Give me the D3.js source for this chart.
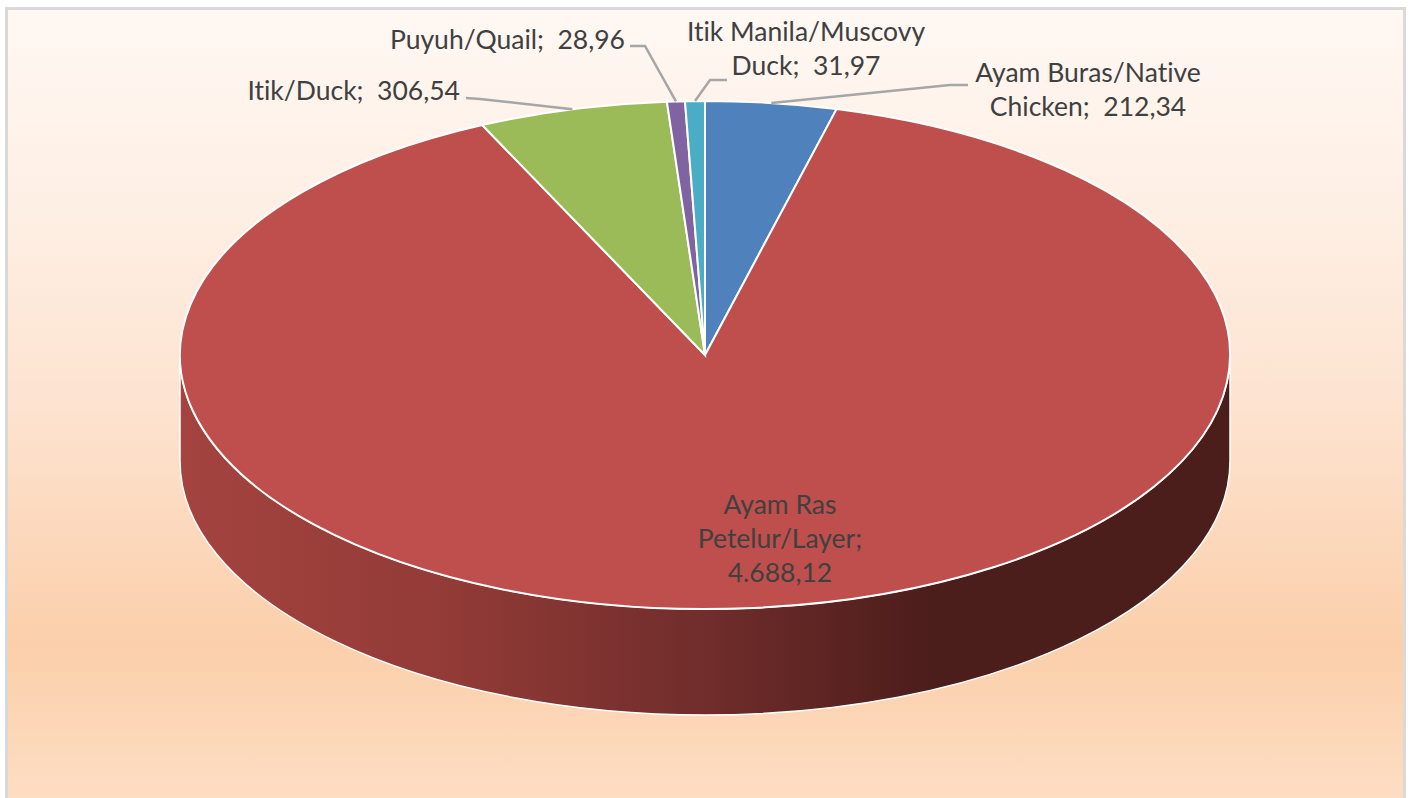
<!doctype html>
<html>

<head>
    <meta charset="utf-8">
    <script src="https://cdnjs.cloudflare.com/ajax/libs/d3/7.8.5/d3.min.js"></script>
    <style>
        html, body {
            margin: 0;
            padding: 0;
            background: #fff;
        }

        svg {
            display: block;
        }

        text {
            font-family: Lato, "Open Sans", sans-serif;
            font-size: 26.5px;
            font-variant-ligatures: none;
            fill: #404040;
            white-space: pre;
        }
    </style>
</head>

<body>
    <div id="viz"></div>
    <script>
        // values, clockwise from 12 o'clock
        var categories = ["Ayam Buras/Native Chicken", "Ayam Ras Petelur/Layer", "Itik/Duck", "Puyuh/Quail", "Itik Manila/Muscovy Duck"];
        var values = [212.34, 4688.12, 306.54, 28.96, 31.97];
        var colors = ["#4f81bd", "#be4f4c", "#9bbb59", "#8064a2", "#4bacc6"];
        // how each name wraps in its label
        var nameLines = [["Ayam Buras/Native", "Chicken"], ["Ayam Ras", "Petelur/Layer"], ["Itik/Duck"], ["Puyuh/Quail"], ["Itik Manila/Muscovy", "Duck"]];

        var width = 1412, height = 798;
        var cx = 705, cy = 355, rx = 525, ry = 254, depth = 106;

        // label placement: anchor x, first baseline, text-anchor, then the elbow of the leader line
        var labelPos = [
            { x: 1088, y: 82, anchor: "middle", elbow: [[968, 85], [950, 85]] },
            { x: 780, y: 514, anchor: "middle", elbow: null },
            { x: 460, y: 100, anchor: "end", elbow: [[466, 98], [480, 99]] },
            { x: 625, y: 49, anchor: "end", elbow: [[630, 46], [645, 46]] },
            { x: 806, y: 41, anchor: "middle", elbow: [[727, 80], [710, 80]] }
        ];
        var lineStep = 34;

        var numFormat = d3.formatLocale({ decimal: ",", thousands: ".", grouping: [3], currency: ["", ""] }).format(",.2f");

        var svg = d3.select("#viz").append("svg")
            .attr("width", width)
            .attr("height", height);

        var defs = svg.append("defs");

        var bg = defs.append("linearGradient")
            .attr("id", "bgGrad")
            .attr("x1", 0).attr("y1", 0).attr("x2", 0).attr("y2", 1);
        [[0, "#fff8f3"], [0.25, "#feefe4"], [0.5, "#fde3d0"], [0.8, "#fbcfaa"], [1, "#fddec4"]].forEach(function (s) {
            bg.append("stop").attr("offset", s[0]).attr("stop-color", s[1]);
        });

        var wall = defs.append("linearGradient")
            .attr("id", "wallGrad")
            .attr("gradientUnits", "userSpaceOnUse")
            .attr("x1", cx - rx).attr("y1", 0).attr("x2", cx + rx).attr("y2", 0);
        [[0, "#a4433f"], [0.25, "#933b37"], [0.5, "#702d2b"], [0.72, "#4b1d1b"], [1, "#4b1d1b"]].forEach(function (s) {
            wall.append("stop").attr("offset", s[0]).attr("stop-color", s[1]);
        });

        // chart area with its grey border
        svg.append("rect")
            .attr("x", 6.5).attr("y", 8.5)
            .attr("width", 1398).attr("height", height)
            .attr("fill", "url(#bgGrad)")
            .attr("stroke", "#d9d9d9")
            .attr("stroke-width", 3);

        var pie = d3.pie().sort(null).value(function (d) { return d; });
        var slices = pie(values);

        // point on the tilted rim for a pie angle
        function rim(angle) {
            return [cx + rx * Math.sin(angle), cy - ry * Math.cos(angle)];
        }

        // side wall: only the front half of a slice can be seen
        slices.forEach(function (d, i) {
            var a0 = Math.max(d.startAngle, Math.PI / 2),
                a1 = Math.min(d.endAngle, Math.PI * 1.5);
            if (a1 <= a0) return;
            var p0 = rim(a0), p1 = rim(a1);
            var large = a1 - a0 > Math.PI ? 1 : 0;
            svg.append("path")
                .attr("d", "M" + p0 + "A" + rx + "," + ry + " 0 " + large + " 1 " + p1 +
                    "L" + [p1[0], p1[1] + depth] +
                    "A" + rx + "," + ry + " 0 " + large + " 0 " + [p0[0], p0[1] + depth] + "Z")
                .attr("fill", "url(#wallGrad)")
                .attr("stroke", "#fff")
                .attr("stroke-width", 1.5);
        });

        // top face: a flat pie squashed into the ellipse
        var arc = d3.arc().innerRadius(0).outerRadius(rx);
        svg.append("g")
            .attr("transform", "translate(" + cx + "," + cy + ") scale(1," + (ry / rx) + ")")
            .selectAll("path")
            .data(slices)
            .enter().append("path")
            .attr("d", arc)
            .attr("fill", function (d, i) { return colors[i]; })
            .attr("stroke", "#fff")
            .attr("stroke-width", 2)
            .attr("vector-effect", "non-scaling-stroke");

        // leader lines end on the rim at the middle of their slice
        var line = d3.line();
        slices.forEach(function (d, i) {
            var pos = labelPos[i];
            if (!pos.elbow) return;
            svg.append("path")
                .attr("d", line(pos.elbow.concat([rim((d.startAngle + d.endAngle) / 2)])))
                .attr("fill", "none")
                .attr("stroke", "#a6a6a6")
                .attr("stroke-width", 2.5);
        });

        // data labels
        categories.forEach(function (name, i) {
            var pos = labelPos[i];
            var lines = nameLines[i].slice();
            var last = lines.length - 1;
            if (i == 1) {
                lines[last] += ";";
                lines.push(numFormat(values[i]));
            } else {
                lines[last] += ";  " + numFormat(values[i]);
            }
            var t = svg.append("text")
                .attr("text-anchor", pos.anchor);
            t.selectAll("tspan")
                .data(lines)
                .enter().append("tspan")
                .attr("x", pos.x)
                .attr("y", function (d, j) { return pos.y + j * lineStep; })
                .text(function (d) { return d; });
        });
    </script>
</body>

</html>
